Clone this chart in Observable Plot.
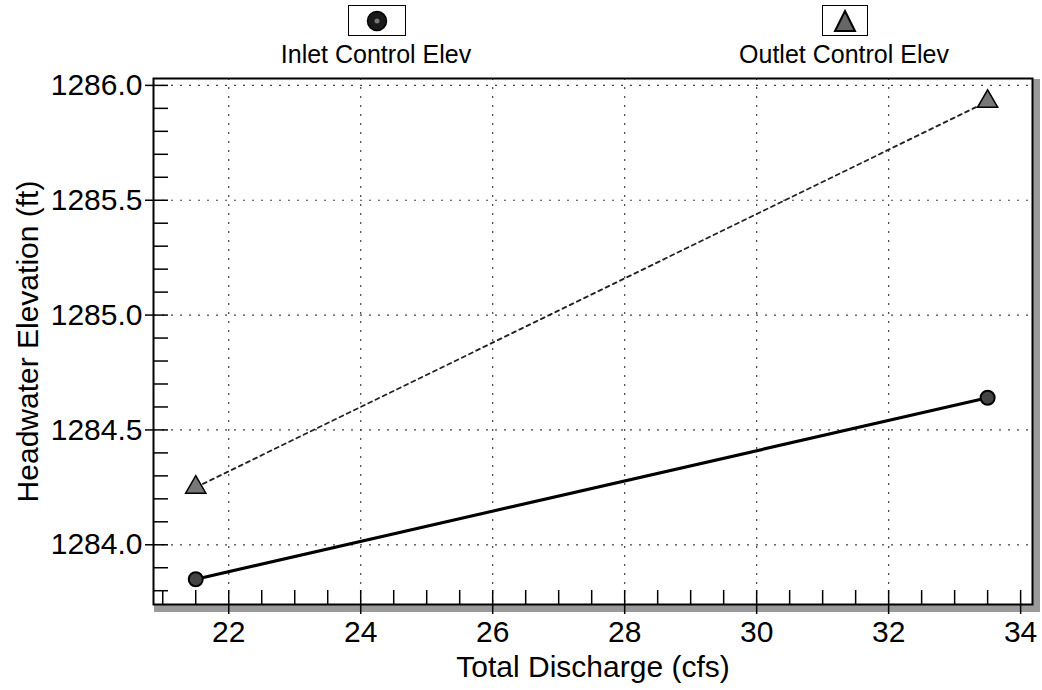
<!DOCTYPE html>
<html><head><meta charset="utf-8">
<script src="https://cdn.jsdelivr.net/npm/d3@7"></script>
<script src="https://cdn.jsdelivr.net/npm/@observablehq/plot@0.6"></script>
<style>
body{margin:0;background:#fff;font-family:"Liberation Sans",Arial,sans-serif;}
#wrap{position:relative;width:1042px;height:690px;overflow:hidden;}
#legend{position:relative;height:60px;}
.lg{position:absolute;top:40px;width:240px;text-align:center;font-size:25px;line-height:28px;color:#000;}
.box{position:absolute;top:5px;height:29px;border:1.5px solid #000;display:flex;align-items:center;justify-content:center;}
</style></head><body>
<div id="wrap"><div id="legend"></div><div id="chart"></div></div>
<script>
// ---- data ----
const discharge = [21.5, 33.5];
const inletElev = [1283.85, 1284.64];
const outletElev = [1284.25, 1285.93];
const seriesNames = ["Inlet Control Elev", "Outlet Control Elev"];
const xTicks = [22, 24, 26, 28, 30, 32, 34];
const yTicks = [1284.0, 1284.5, 1285.0, 1285.5, 1286.0];
const xGrid = [22, 24, 26, 28, 30, 32];
const xLabel = "Total Discharge (cfs)";
const yLabel = "Headwater Elevation (ft)";

const inlet = discharge.map((q, i) => ({q, e: inletElev[i]}));
const outlet = discharge.map((q, i) => ({q, e: outletElev[i]}));

const minorX = d3.range(21, 34.01, 0.5);
const minorY = d3.range(1283.8, 1286.01, 0.1).map(v => +v.toFixed(1));

// ---- legend (HTML) ----
const legend = document.getElementById("legend");
const legendPos = [{cx: 376, w: 56}, {cx: 844, w: 44}];
seriesNames.forEach((name, i) => {
  const p = legendPos[i];
  const box = document.createElement("div");
  box.className = "box";
  box.style.left = (p.cx - p.w / 2) + "px";
  box.style.width = p.w + "px";
  box.innerHTML = i === 0
    ? '<svg width="24" height="24"><circle cx="12" cy="12" r="9.5" fill="#1a1a1a" stroke="#000" stroke-width="1.5"/><circle cx="12" cy="12" r="2.5" fill="#777"/></svg>'
    : '<svg width="24" height="24"><path d="M12 2 L22 22 L2 22 Z" fill="#666" stroke="#000" stroke-width="2"/></svg>';
  legend.appendChild(box);
  const t = document.createElement("div");
  t.className = "lg";
  t.style.left = (p.cx - 120) + "px";
  t.textContent = name;
  legend.appendChild(t);
});

// ---- chart ----
const W = 1042, H = 630, mT = 18, mB = 86, mL = 153, mR = 10;
const frameW = W - mL - mR, frameH = H - mT - mB;
const chart = Plot.plot({
  width: W,
  height: H,
  marginTop: mT,
  marginBottom: mB,
  marginLeft: mL,
  marginRight: mR,
  style: {fontFamily: "'Liberation Sans', Arial, sans-serif", fontSize: "30px", color: "#000", background: "#fff", overflow: "visible"},
  x: {domain: [20.86, 34.18]},
  y: {domain: [1283.74, 1286.03]},
  marks: [
    // shadow
    Plot.frame({anchor: "bottom", stroke: "#9a9a9a", strokeWidth: 7, dx: 4, dy: 4}),
    Plot.frame({anchor: "right", stroke: "#9a9a9a", strokeWidth: 7, dx: 4, dy: 4}),
    // grid
    Plot.gridX(xGrid, {stroke: "#444", strokeOpacity: 1, strokeWidth: 1.2, strokeDasharray: "2,7"}),
    Plot.gridY(yTicks, {stroke: "#444", strokeOpacity: 1, strokeWidth: 1.2, strokeDasharray: "2,7"}),
    // minor ticks inside the frame
    Plot.tickX(minorX, {x: d => d, insetTop: frameH - 14, stroke: "#000", strokeWidth: 1.5}),
    Plot.tickY(minorY, {y: d => d, insetRight: frameW - 15, stroke: "#000", strokeWidth: 1.5}),
    // major axes
    Plot.axisX(xTicks, {anchor: "bottom", tickSize: 10, tickPadding: 6, strokeWidth: 1.5, fontSize: 30,
      label: xLabel, labelAnchor: "center", labelArrow: "none", labelOffset: 72}),
    Plot.axisY(yTicks, {anchor: "left", tickSize: 8, tickPadding: 3, strokeWidth: 1.5, fontSize: 30,
      tickFormat: d3.format(".1f"), label: yLabel, labelAnchor: "center", labelArrow: "none", labelOffset: 137}),
    // series
    Plot.line(outlet, {x: "q", y: "e", stroke: "#222", strokeWidth: 1.8, strokeDasharray: "4,4"}),
    Plot.line(inlet, {x: "q", y: "e", stroke: "#000", strokeWidth: 3.2}),
    Plot.dot(outlet, {x: "q", y: "e", symbol: "triangle", r: 7.5, fill: "#777", stroke: "#000", strokeWidth: 1.5}),
    Plot.dot(inlet, {x: "q", y: "e", symbol: "circle", r: 7, fill: "#444", stroke: "#000", strokeWidth: 2}),
    Plot.frame({stroke: "#000", strokeWidth: 2})
  ]
});
document.getElementById("chart").appendChild(chart);
</script>
</body></html>
